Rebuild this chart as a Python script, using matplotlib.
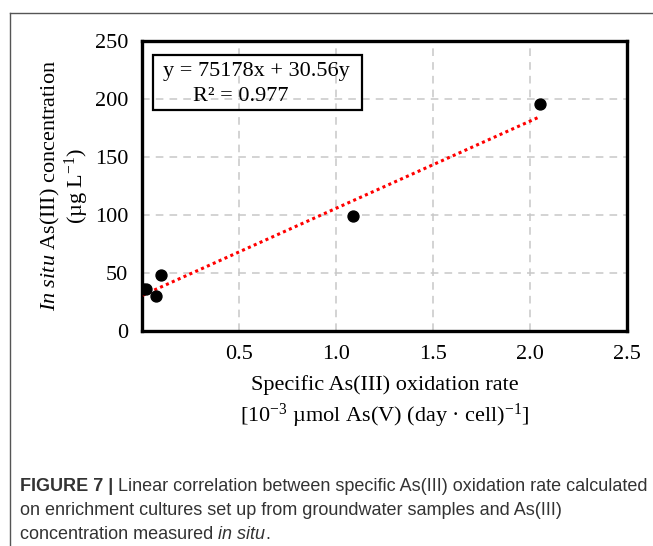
import numpy as np
import matplotlib
matplotlib.use('Agg')
import matplotlib.pyplot as plt
from matplotlib.lines import Line2D
from matplotlib.patches import Rectangle

plt.rcParams['font.family'] = ['Liberation Serif', 'DejaVu Serif']
plt.rcParams['mathtext.fontset'] = 'custom'
plt.rcParams['mathtext.rm'] = 'Liberation Serif'
plt.rcParams['mathtext.it'] = 'Liberation Serif:italic'

# 数据
rate = [0.003, 0.022, 0.073, 0.100, 1.09, 2.05]
conc = [36, 36, 30, 48, 99, 196]
slope = 75.178
intercept = 30.56
eq_text = 'y = 75178x + 30.56y'
r2_text = 'R² = 0.977'
xticks = [0.5, 1.0, 1.5, 2.0, 2.5]
yticks = [0, 50, 100, 150, 200, 250]

W, H = 653, 546
fig = plt.figure(figsize=(W / 100, H / 100), dpi=100)
ax = fig.add_axes([142 / W, 1 - 331 / H, 485 / W, 290 / H])

# 网格
ax.set_axisbelow(True)
ax.grid(True, color='#c8c8c8', linestyle=(0, (5, 4)), linewidth=1.1)

# 趋势线
xs = np.array([min(rate), max(rate)])
ax.plot(xs, slope * xs + intercept, color='red', linestyle=(0, (1, 1.1)), linewidth=2.2, zorder=3)
ax.scatter(rate, conc, s=62, color='black', zorder=4)

ax.set_xlim(0, 2.5)
ax.set_ylim(0, 250)
ax.set_xticks(xticks)
ax.set_xticklabels(['%.1f' % t for t in xticks])
ax.set_yticks(yticks)
ax.tick_params(length=0, labelsize=16, pad=10)
for s in ax.spines.values():
    s.set_linewidth(2.4)
    s.set_color('black')

ax.set_xlabel('Specific As(III) oxidation rate\n[10$^{-3}$ µmol As(V) (day · cell)$^{-1}$]',
              fontsize=16, linespacing=1.35, labelpad=8)
ax.set_ylabel('$\\mathit{In\\ situ}$ As(III) concentration\n(µg L$^{-1}$)',
              fontsize=16, linespacing=1.0, labelpad=3)

# 公式框
ax.add_patch(Rectangle((0.0227, 0.762), 0.431, 0.19, transform=ax.transAxes,
                       fill=False, edgecolor='black', linewidth=1.6, zorder=5))
ax.text(0.236, 0.895, eq_text, transform=ax.transAxes, fontsize=16,
        ha='center', va='center', zorder=6)
ax.text(0.203, 0.81, r2_text, transform=ax.transAxes, fontsize=16,
        ha='center', va='center', zorder=6)

# 外框线
fig.add_artist(Line2D([10 / W, 1], [1 - 13 / H, 1 - 13 / H], color='#555555', linewidth=1))
fig.add_artist(Line2D([10 / W, 10 / W], [0, 1 - 13 / H], color='#555555', linewidth=1))

# 图注
cap_color = '#333333'
cap_size = 13.0
cap_font = ['Liberation Sans', 'DejaVu Sans']
renderer = fig.canvas.get_renderer()


def put_line(pieces, y):
    x = 20 / W
    for txt, weight, style in pieces:
        t = fig.text(x, y, txt, fontsize=cap_size, family=cap_font, color=cap_color,
                     fontweight=weight, fontstyle=style, va='baseline')
        bb = t.get_window_extent(renderer)
        x = x + bb.width / W


put_line([('FIGURE 7 | ', 'bold', 'normal'),
          ('Linear correlation between specific As(III) oxidation rate calculated', 'normal', 'normal')],
         1 - 491 / H)
put_line([('on enrichment cultures set up from groundwater samples and As(III)', 'normal', 'normal')],
         1 - 515 / H)
put_line([('concentration measured ', 'normal', 'normal'), ('in situ', 'normal', 'italic'),
          ('.', 'normal', 'normal')], 1 - 539 / H)

fig.savefig('out.png', dpi=100)
